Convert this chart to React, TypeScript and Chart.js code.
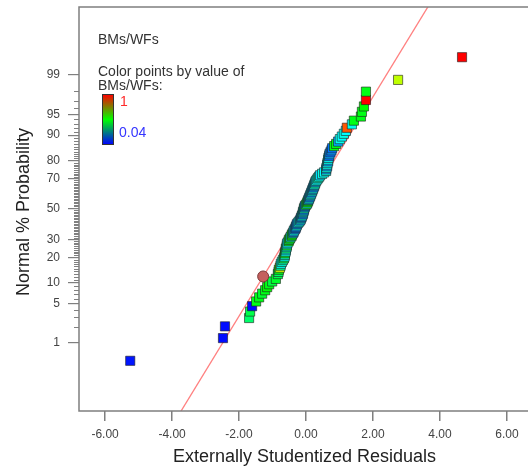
import { useEffect, useRef } from "react";
import { Chart, registerables } from "chart.js";

Chart.register(...registerables);

// Externally studentized residuals, sorted ascending (squares)
const residuals = [
  -5.25, -2.48, -2.42, -1.7, -1.67, -1.61, -1.49, -1.4, -1.31, -1.22, -1.16, -1.1, -1.01, -0.9,
  -0.84, -0.82, -0.81, -0.78, -0.76, -0.75, -0.72, -0.69, -0.66, -0.64, -0.63, -0.63, -0.61, -0.6,
  -0.6, -0.58, -0.57, -0.57, -0.55, -0.52, -0.51, -0.48, -0.46, -0.43, -0.42, -0.39, -0.37, -0.36,
  -0.33, -0.31, -0.3, -0.28, -0.27, -0.24, -0.21, -0.18, -0.16, -0.15, -0.13, -0.12, -0.1, -0.09,
  -0.09, -0.07, -0.06, -0.06, -0.04, -0.03, 0.0, 0.03, 0.04, 0.06, 0.07, 0.09, 0.1, 0.12, 0.13,
  0.15, 0.16, 0.18, 0.19, 0.21, 0.22, 0.24, 0.25, 0.27, 0.28, 0.3, 0.33, 0.36, 0.39, 0.42, 0.48,
  0.54, 0.6, 0.6, 0.61, 0.63, 0.63, 0.64, 0.66, 0.66, 0.67, 0.69, 0.7, 0.73, 0.76, 0.78, 0.84,
  0.9, 0.96, 1.01, 1.07, 1.13, 1.19, 1.22, 1.37, 1.43, 1.64, 1.67, 1.73, 1.79, 1.79, 2.75, 4.66,
];

// Normal % probability of each residual
const probabilities = [
  0.42, 1.25, 2.08, 2.92, 3.75, 4.58, 5.42, 6.25, 7.08, 7.92, 8.75, 9.58, 10.42, 11.25,
  12.92, 13.75, 14.58, 15.42, 16.25, 17.08, 17.92, 18.75, 19.58, 20.42, 21.25, 22.08, 22.92, 23.75,
  24.58, 25.42, 26.25, 27.08, 27.92, 28.75, 29.58, 30.42, 31.25, 32.08, 32.92, 33.75, 34.58, 35.42,
  36.25, 37.08, 37.92, 38.75, 39.58, 40.42, 41.25, 42.08, 42.92, 43.75, 44.58, 45.42, 46.25, 47.08,
  47.92, 48.75, 49.58, 50.42, 51.25, 52.08, 52.92, 53.75, 54.58, 55.42, 56.25, 57.08, 57.92, 58.75, 59.58,
  60.42, 61.25, 62.08, 62.92, 63.75, 64.58, 65.42, 66.25, 67.08, 67.92, 68.75, 69.58, 70.42, 71.25, 72.08,
  72.92, 73.75, 74.58, 75.42, 76.25, 77.08, 77.92, 78.75, 79.58, 80.42, 81.25, 82.08, 82.92, 83.75, 84.58,
  85.42, 86.25, 87.08, 87.92, 88.75, 89.58, 90.42, 91.25, 92.08, 92.92, 93.75, 94.58, 95.42, 96.25, 97.08,
  97.92, 98.75, 99.58,
];

// BMs/WFs value of each run, used for the point colour
const bmsWfs = [
  0.06, 0.05, 0.05, 0.42, 0.45, 0.05, 0.5, 0.5, 0.48, 0.5, 0.52, 0.5, 0.46, 0.48,
  0.45, 0.42, 0.5, 0.72, 0.38, 0.3, 0.32, 0.36, 0.45, 0.3, 0.34, 0.5, 0.3, 0.28,
  0.4, 0.3, 0.46, 0.3, 0.28, 0.5, 0.45, 0.5, 0.3, 0.5, 0.5, 0.22, 0.2, 0.3,
  0.18, 0.15, 0.2, 0.3, 0.15, 0.25, 0.3, 0.2, 0.3, 0.18, 0.2, 0.3, 0.18, 0.2,
  0.3, 0.22, 0.18, 0.35, 0.2, 0.18, 0.5, 0.3, 0.5, 0.5, 0.2, 0.3, 0.18, 0.2, 0.3,
  0.28, 0.18, 0.3, 0.2, 0.3, 0.18, 0.2, 0.3, 0.35, 0.2, 0.3, 0.28, 0.35, 0.3, 0.25, 0.3,
  0.28, 0.3, 0.2, 0.3, 0.2, 0.3, 0.28, 0.2, 0.3, 0.28, 0.15, 0.2, 0.15, 0.18, 0.15, 0.5,
  0.5, 0.2, 0.3, 0.28, 0.3, 0.28, 0.92, 0.3, 0.5, 0.5, 0.5, 0.52, 1.0, 0.5, 0.7, 1.0,
];

// Highlighted run (circle)
const markedResidual = [-1.28];
const markedProbability = [12.08];

// Reference line end points (residual, normal score)
const fitLineResiduals = [-4.2, 4.2];
const fitLineScores = [-3.954, 4.042];

const probabilityTicks = [1, 5, 10, 20, 30, 50, 70, 80, 90, 95, 99];
const residualTicks = [-6, -4, -2, 0, 2, 4, 6];

const colorMin = 0.04;
const colorMax = 1;

// Inverse of the standard normal CDF (Acklam's rational approximation)
function probit(p: number): number {
  const a = [-39.69683028665376, 220.9460984245205, -275.9285104469687, 138.357751867269, -30.66479806614716, 2.506628277459239];
  const b = [-54.47609879822406, 161.5858368580409, -155.6989798598866, 66.80131188771972, -13.28068155288572];
  const c = [-0.007784894002430293, -0.3223964580411365, -2.400758277161838, -2.549732539343734, 4.374664141464968, 2.938163982698783];
  const d = [0.007784695709041462, 0.3224671290700398, 2.445134137142996, 3.754408661907416];
  const pl = 0.02425;
  if (p < pl) {
    const q = Math.sqrt(-2 * Math.log(p));
    return (((((c[0] * q + c[1]) * q + c[2]) * q + c[3]) * q + c[4]) * q + c[5]) /
      ((((d[0] * q + d[1]) * q + d[2]) * q + d[3]) * q + 1);
  }
  if (p <= 1 - pl) {
    const q = p - 0.5;
    const r = q * q;
    return (((((a[0] * r + a[1]) * r + a[2]) * r + a[3]) * r + a[4]) * r + a[5]) * q /
      (((((b[0] * r + b[1]) * r + b[2]) * r + b[3]) * r + b[4]) * r + 1);
  }
  const q = Math.sqrt(-2 * Math.log(1 - p));
  return -(((((c[0] * q + c[1]) * q + c[2]) * q + c[3]) * q + c[4]) * q + c[5]) /
    ((((d[0] * q + d[1]) * q + d[2]) * q + d[3]) * q + 1);
}

function valueColor(v: number): string {
  const t = Math.min(1, Math.max(0, (v - colorMin) / (colorMax - colorMin)));
  const hue = 240 * (1 - t);
  return `hsl(${hue.toFixed(1)}, 100%, 50%)`;
}

const FONT = '"Liberation Sans", Arial, sans-serif';

const decorations = {
  id: "decorations",
  afterDraw(chart: any) {
    const { ctx, chartArea } = chart;
    const y = chart.scales.y;
    ctx.save();

    // minor ticks on the probability axis
    ctx.strokeStyle = "#808080";
    ctx.lineWidth = 1;
    for (let k = 1; k <= 99; k++) {
      if (probabilityTicks.includes(k)) continue;
      const py = Math.round(y.getPixelForValue(probit(k / 100))) + 0.5;
      ctx.beginPath();
      ctx.moveTo(chartArea.left - 5, py);
      ctx.lineTo(chartArea.left, py);
      ctx.stroke();
    }

    // frame: left, top, bottom
    ctx.strokeStyle = "#7f7f7f";
    ctx.lineWidth = 1.5;
    ctx.beginPath();
    ctx.moveTo(chartArea.right + 2, chartArea.top);
    ctx.lineTo(chartArea.left, chartArea.top);
    ctx.lineTo(chartArea.left, chartArea.bottom);
    ctx.lineTo(chartArea.right + 2, chartArea.bottom);
    ctx.stroke();

    // axis titles
    ctx.fillStyle = "#222";
    ctx.font = `18px ${FONT}`;
    ctx.textAlign = "center";
    ctx.textBaseline = "middle";
    ctx.fillText("Externally Studentized Residuals", 304.5, 457);
    ctx.save();
    ctx.translate(24, 212);
    ctx.rotate(-Math.PI / 2);
    ctx.fillText("Normal % Probability", 0, 0);
    ctx.restore();

    // colour key
    ctx.font = `14px ${FONT}`;
    ctx.textAlign = "left";
    ctx.fillStyle = "#333";
    ctx.fillText("BMs/WFs", 98, 40);
    ctx.fillText("Color points by value of", 98, 72);
    ctx.fillText("BMs/WFs:", 98, 86);

    const bx = 102.5, by = 94.5, bw = 11, bh = 50;
    const grad = ctx.createLinearGradient(0, by, 0, by + bh);
    grad.addColorStop(0, "#ff0000");
    grad.addColorStop(0.5, "#00ff00");
    grad.addColorStop(1, "#0000ff");
    ctx.fillStyle = grad;
    ctx.fillRect(bx, by, bw, bh);
    ctx.strokeStyle = "#333";
    ctx.lineWidth = 1;
    ctx.strokeRect(bx, by, bw, bh);

    ctx.fillStyle = "#ff2a2a";
    ctx.fillText(String(colorMax), 120, 102);
    ctx.fillStyle = "#3535ff";
    ctx.fillText(String(colorMin), 119, 133);

    ctx.restore();
  },
};

export default function App() {
  const canvasRef = useRef<HTMLCanvasElement | null>(null);

  useEffect(() => {
    const canvas = canvasRef.current;
    if (!canvas) return;

    const runPoints = residuals.map((r, i) => ({ x: r, y: probit(probabilities[i] / 100) }));
    const markedPoints = markedResidual.map((r, i) => ({ x: r, y: probit(markedProbability[i] / 100) }));
    const linePoints = fitLineResiduals.map((r, i) => ({ x: r, y: fitLineScores[i] }));

    const chart = new Chart(canvas, {
      type: "scatter",
      data: {
        datasets: [
          {
            type: "line",
            data: linePoints,
            borderColor: "#ff8080",
            borderWidth: 1.3,
            pointRadius: 0,
            fill: false,
            order: 3,
          },
          {
            data: runPoints,
            pointStyle: "rect",
            pointRadius: 6.5,
            pointBorderWidth: 1,
            pointBorderColor: "rgba(30,30,30,0.6)",
            pointBackgroundColor: bmsWfs.map(valueColor),
            order: 2,
          },
          {
            data: markedPoints,
            pointStyle: "circle",
            pointRadius: 5.5,
            pointBorderWidth: 1,
            pointBorderColor: "#7a3838",
            pointBackgroundColor: "#c4605e",
            order: 1,
          },
        ] as any,
      },
      options: {
        animation: false,
        responsive: false,
        devicePixelRatio: 1,
        layout: { autoPadding: false, padding: { top: 7, left: 0, right: 0, bottom: 0 } },
        plugins: { legend: { display: false }, tooltip: { enabled: false } },
        scales: {
          x: {
            type: "linear",
            min: -6.78,
            max: 6.63,
            afterBuildTicks: (scale: any) => {
              scale.ticks = residualTicks.map((v) => ({ value: v }));
            },
            afterFit: (scale: any) => {
              scale.height = 57;
              scale.paddingLeft = 0;
              scale.paddingRight = 0;
            },
            grid: { drawOnChartArea: false, drawTicks: true, tickLength: 10, color: "#7f7f7f", lineWidth: 1.5 },
            border: { display: false },
            ticks: {
              callback: (v: any) => Number(v).toFixed(2),
              color: "#444",
              font: { family: FONT, size: 12 },
              padding: 6,
              maxRotation: 0,
              autoSkip: false,
            },
          },
          y: {
            type: "linear",
            min: -3.507,
            max: 3.507,
            afterBuildTicks: (scale: any) => {
              scale.ticks = probabilityTicks.map((p) => ({ value: probit(p / 100) }));
            },
            afterFit: (scale: any) => {
              scale.width = 79;
              scale.paddingTop = 0;
              scale.paddingBottom = 0;
            },
            grid: { drawOnChartArea: false, drawTicks: true, tickLength: 11, color: "#7f7f7f", lineWidth: 1.2 },
            border: { display: false },
            ticks: {
              callback: (_v: any, i: number) => String(probabilityTicks[i]),
              color: "#444",
              font: { family: FONT, size: 12 },
              padding: 8,
              autoSkip: false,
            },
          },
        },
      },
      plugins: [decorations],
    });

    return () => chart.destroy();
  }, []);

  return (
    <div style={{ position: "absolute", left: 0, top: 0, width: 528, height: 468, background: "#fff" }}>
      <canvas ref={canvasRef} width={528} height={468} />
    </div>
  );
}
